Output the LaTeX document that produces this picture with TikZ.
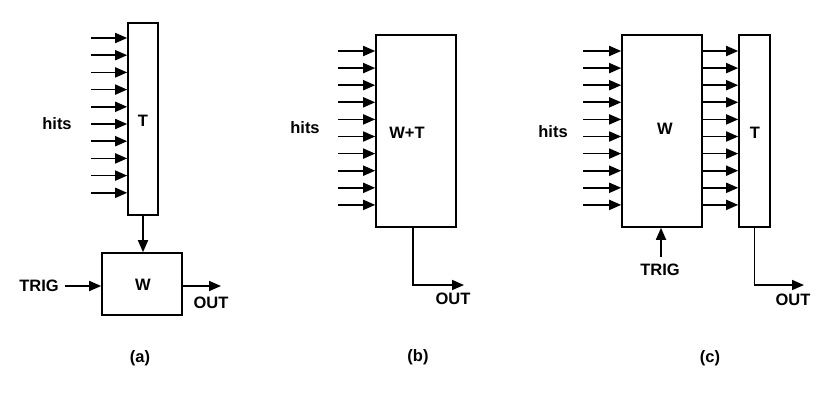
\documentclass[tikz,border=0pt]{standalone}
\usepackage{fontspec}
\setmainfont{Liberation Sans}
\usetikzlibrary{arrows.meta,calc}
\begin{document}
\begin{tikzpicture}[x=1pt,y=-1pt,
  line width=1.7pt,
  box/.style={draw,line width=1.6pt,inner sep=0pt,anchor=center},
  lbl/.style={font=\fontsize{16.5}{19}\selectfont\bfseries,inner sep=0pt},
  arr/.style={-{Triangle[length=12pt,width=10pt]}}]
\useasboundingbox (0,0) rectangle (830,402);
% ---------- (a)
\node[box,minimum width=30pt,minimum height=192pt] (Ta) at (143,119) {};
\node[lbl] at (143,121) {T};
\node[box,minimum width=80pt,minimum height=62pt] (Wa) at (142,284) {};
\node[lbl] at (143,285) {W};
\node[lbl] (hitsa) at (57,124) {hits};
\foreach \i in {0,...,9}{
  \coordinate (a\i) at (91,{38+17.2*\i});
  \draw[arr] (a\i) -- (a\i -| Ta.west);
}
\draw[arr] (Ta.south) -- (Ta.south |- Wa.north);
\node[lbl] (triga) at (39,286) {TRIG};
\coordinate (tas) at (65,286);
\draw[arr] (tas) -- (tas -| Wa.west);
\coordinate (oae) at (221,286);
\draw[arr] (Wa.east |- oae) -- (oae);
\node[lbl] (outa) at (211,303) {OUT};
\node[lbl] (capa) at (140,358) {(a)};
% ---------- (b)
\node[box,minimum width=80pt,minimum height=192pt] (WTb) at (416,131) {};
\node[lbl] at (407,133) {W+T};
\node[lbl] (hitsb) at (305,128) {hits};
\foreach \i in {0,...,9}{
  \coordinate (b\i) at (338,{51+17.1*\i});
  \draw[arr] (b\i) -- (b\i -| WTb.west);
}
\coordinate (ob1) at (413,227);
\coordinate (ob2) at (464,285);
\draw[arr] (ob1) |- (ob2);
\node[lbl] (outb) at (453,299) {OUT};
\node[lbl] (capb) at (418,357) {(b)};
% ---------- (c)
\node[box,minimum width=80pt,minimum height=192pt] (Wc) at (662,131) {};
\node[lbl] at (665,129) {W};
\node[box,minimum width=31pt,minimum height=192pt] (Tc) at (754.5,131) {};
\node[lbl] at (755,133) {T};
\node[lbl] (hitsc) at (553,132) {hits};
\foreach \i in {0,...,9}{
  \coordinate (c\i) at (583,{51+17.1*\i});
  \draw[arr] (c\i) -- (c\i -| Wc.west);
  \draw[arr] (c\i -| Wc.east) -- (c\i -| Tc.west);
}
\coordinate (tcs) at (661,257);
\draw[arr] (tcs) -- (tcs |- Wc.south);
\node[lbl] (trigc) at (660,270) {TRIG};
\coordinate (oc2) at (804,285);
\draw[arr] (Tc.south) |- (oc2);
\node[lbl] (outc) at (793,300) {OUT};
\node[lbl] (capc) at (710,358) {(c)};
\end{tikzpicture}
\end{document}
